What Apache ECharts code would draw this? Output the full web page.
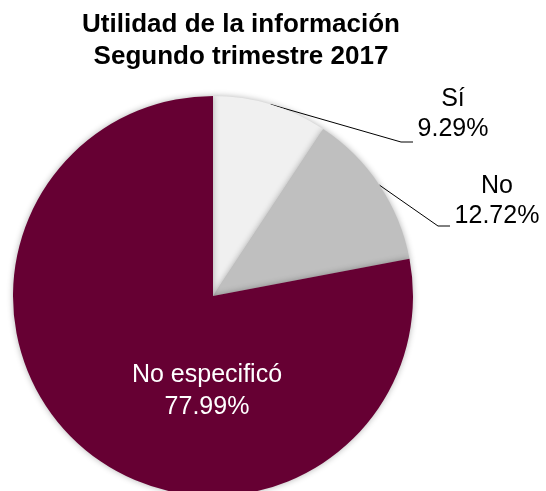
<!DOCTYPE html>
<html lang="es">
<head>
    <meta charset="UTF-8">
    <script src="https://cdn.jsdelivr.net/npm/echarts@6/dist/echarts.min.js"></script>
    <title>Utilidad de la información</title>
</head>
<body style="margin:0;background:#ffffff;">
    <div id="chart" style="width:546px;height:491px;"></div>
    <script>
        var categories = ['Sí', 'No', 'No especificó'];
        var values = [9.29, 12.72, 77.99];
        var colors = ['#f0f0f0', '#bfbfbf', '#660033'];
        // centre of each label block, and the elbow / end of its leader line
        var labelSpots = [[453, 114], [497, 201], [207, 391]];
        var lineElbows = [[[401, 142], [413, 142]], [[438, 226], [450, 226]], null];

        var myChart = echarts.init(document.getElementById('chart'));

        var data = [];
        for (var i = 0; i < categories.length; i++) {
            data.push({
                name: categories[i],
                value: values[i],
                itemStyle: { color: colors[i] },
                label: i === 2
                    ? { position: 'inside', color: '#ffffff', overflow: 'none', lineHeight: 32 }
                    : { color: '#000000' },
                labelLine: { show: i !== 2 }
            });
        }

        var option = {
            backgroundColor: '#ffffff',
            animation: false,
            title: {
                text: 'Utilidad de la información\nSegundo trimestre 2017',
                left: 236,
                top: 4,
                textAlign: 'center',
                textStyle: {
                    fontFamily: 'Liberation Sans',
                    fontWeight: 'bold',
                    fontSize: 26,
                    lineHeight: 32,
                    color: '#000000'
                }
            },
            series: [{
                type: 'pie',
                center: [213, 296],
                radius: [0, 200],
                startAngle: 90,
                clockwise: true,
                data: data,
                itemStyle: {
                    shadowBlur: 6,
                    shadowColor: 'rgba(0,0,0,0.3)'
                },
                label: {
                    show: true,
                    position: 'outside',
                    formatter: function (p) { return p.name + '\n' + p.value.toFixed(2) + '%'; },
                    fontFamily: 'Liberation Sans',
                    fontSize: 25,
                    lineHeight: 30,
                    align: 'center'
                },
                labelLine: {
                    show: true,
                    length: 20,
                    length2: 12,
                    lineStyle: { color: '#000000', width: 1 }
                },
                labelLayout: function (params) {
                    var s = labelSpots[params.dataIndex];
                    var res = {
                        x: s[0],
                        y: s[1],
                        align: 'center',
                        verticalAlign: 'middle'
                    };
                    var el = lineElbows[params.dataIndex];
                    if (el && params.labelLinePoints) {
                        res.labelLinePoints = [params.labelLinePoints[0], el[0], el[1]];
                    }
                    return res;
                },
                emphasis: { disabled: true }
            }]
        };
        myChart.setOption(option);
    </script>
</body>
</html>
